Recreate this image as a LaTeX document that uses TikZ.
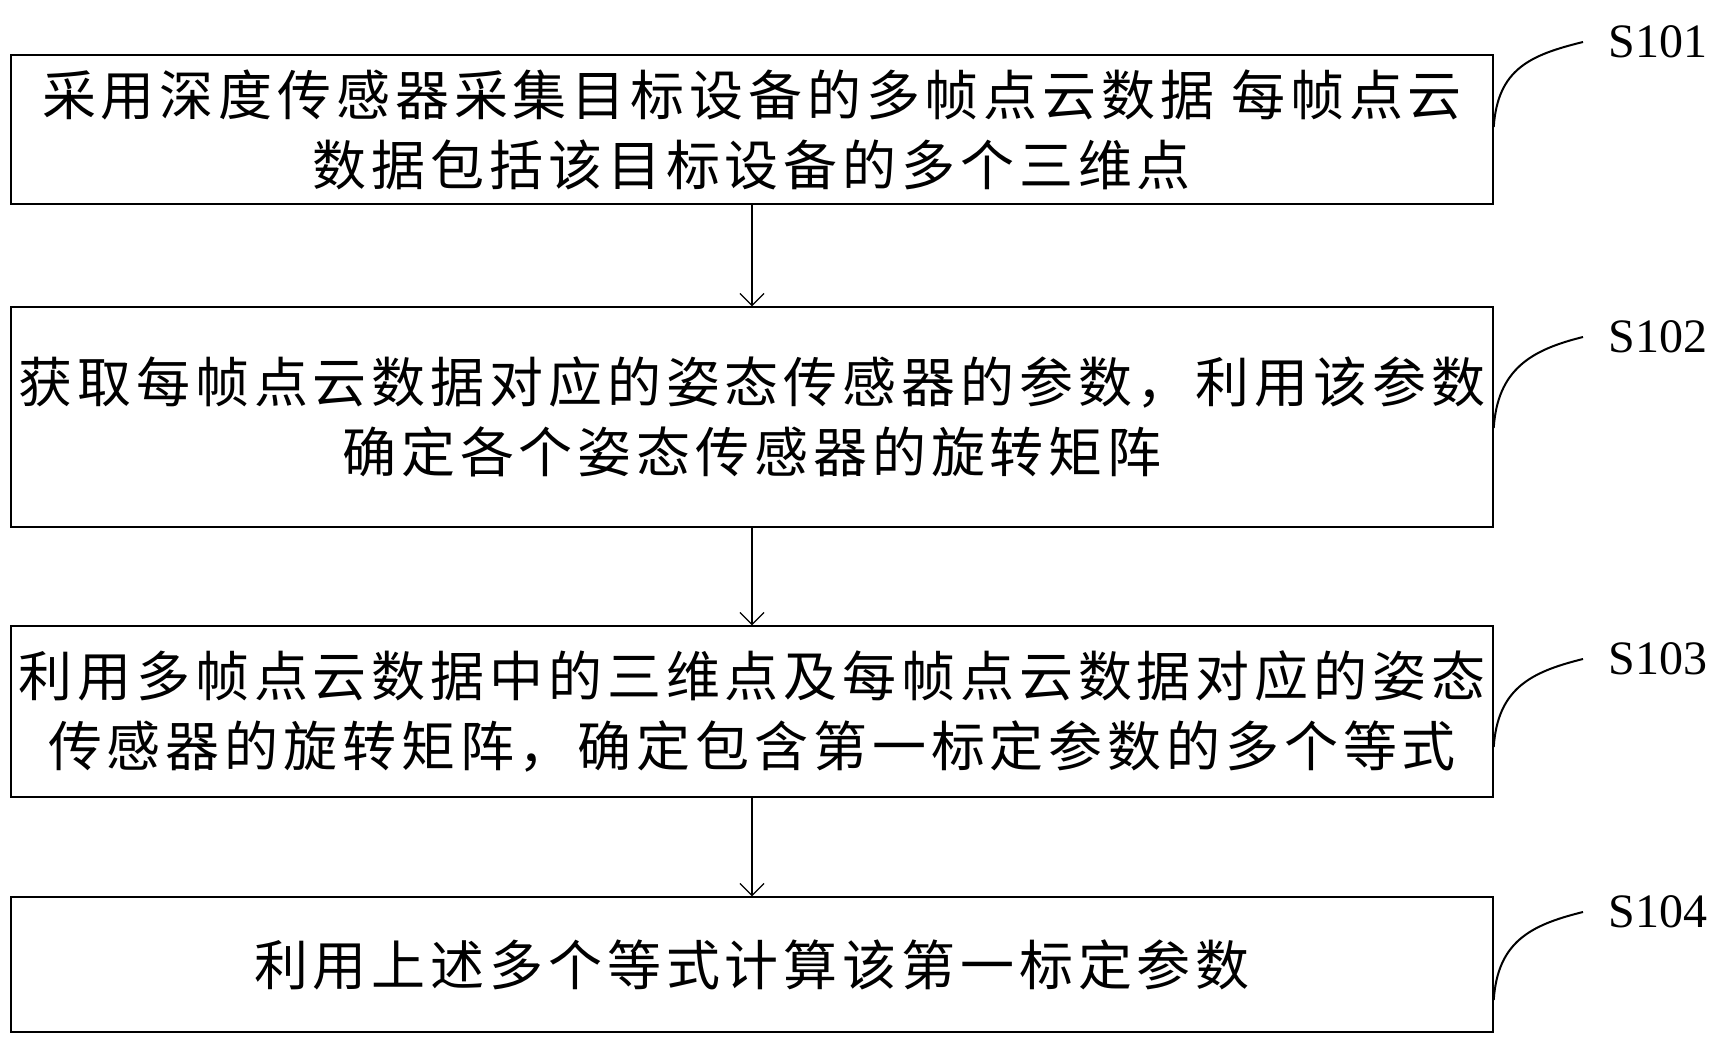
\documentclass[tikz,border=0pt]{standalone}
\usepackage{fontspec}
\setmainfont{Liberation Serif}
\newfontfamily\cjk[LetterSpace=9]{Noto Sans CJK SC}
\usetikzlibrary{arrows.meta}
\begin{document}
\begin{tikzpicture}[x=0.5pt,y=-0.5pt,
    stepbox/.style={draw,line width=0.7pt,inner sep=0pt,minimum width=741pt,align=center,
      font=\cjk\fontsize{27pt}{35pt}\selectfont},
    steplabel/.style={anchor=west,inner sep=0pt,font=\fontsize{24pt}{24pt}\selectfont},
    flow/.style={line width=0.6pt,-{Straight Barb[length=6pt,width=12pt,line width=0.6pt]}},
    leader/.style={line width=1pt}]
            \useasboundingbox (0,0) rectangle (1718,1046);
            % cajas
            \node[stepbox,minimum height=74.5pt] (s1) at (752,129.5) {采用深度传感器采集目标设备的多帧点云数据 每帧点云\\数据包括该目标设备的多个三维点};
            \node[stepbox,minimum height=110pt] (s2) at (752,417) {获取每帧点云数据对应的姿态传感器的参数，利用该参数\\确定各个姿态传感器的旋转矩阵};
            \node[stepbox,minimum height=85.5pt] (s3) at (752,711.5) {利用多帧点云数据中的三维点及每帧点云数据对应的姿态\\传感器的旋转矩阵，确定包含第一标定参数的多个等式};
            \node[stepbox,minimum height=67.5pt] (s4) at (752,964.5) {利用上述多个等式计算该第一标定参数};
            % flechas
            \draw[flow] (s1) -- (s2);
            \draw[flow] (s2) -- (s3);
            \draw[flow] (s3) -- (s4);
            % etiquetas
            \node[steplabel] (l1) at (1608,42) {S101};
            \node[steplabel] (l2) at (1608,337) {S102};
            \node[steplabel] (l3) at (1608,659) {S103};
            \node[steplabel] (l4) at (1608,912) {S104};
            \draw[leader] ([yshift=1.25pt]s1.east) .. controls +(4,-58) and +(-53,13) .. ([xshift=-12.5pt]l1.west);
            \draw[leader] ([yshift=-5.5pt]s2.east) .. controls +(4,-58) and +(-53,13) .. ([xshift=-12.5pt]l2.west);
            \draw[leader] ([yshift=-17.75pt]s3.east) .. controls +(4,-58) and +(-53,13) .. ([xshift=-12.5pt]l3.west);
            \draw[leader] ([yshift=-17.75pt]s4.east) .. controls +(4,-58) and +(-53,13) .. ([xshift=-12.5pt]l4.west);
\end{tikzpicture}
\end{document}
